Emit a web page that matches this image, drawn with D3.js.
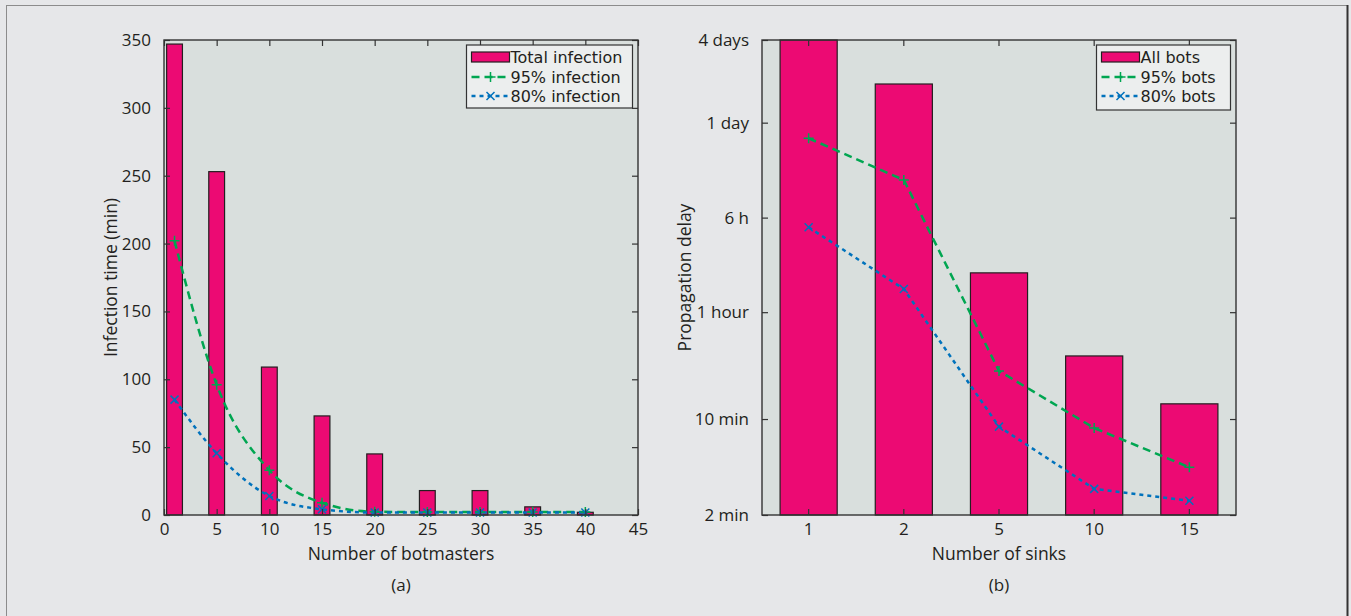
<!DOCTYPE html>
<html>
<head>
<meta charset="utf-8">
<script src="https://cdn.jsdelivr.net/npm/d3@7"></script>
<style>
  body { margin: 0; background: #e6e7e9; }
  text { font-family: "Open Sans", sans-serif; fill: #231f20; }
  .legend-text { font-family: "DejaVu Sans", sans-serif; }
</style>
</head>
<body>
<div id="chart-area"></div>
<script>
/* Panel (a): infection time vs number of botmasters */
var botmasters = [1, 5, 10, 15, 20, 25, 30, 35, 40];
var totalInfection = [347, 253, 109, 73, 45, 18, 18, 6, 2];
var infection95 = [202, 96, 33, 9, 2.4, 2.2, 2.2, 2.2, 2.2];
var infection80 = [85, 45.5, 14, 4.2, 1.8, 1.8, 1.8, 1.8, 1.8];
var xTicksA = [0, 5, 10, 15, 20, 25, 30, 35, 40, 45];
var yTicksA = [0, 50, 100, 150, 200, 250, 300, 350];
var legendA = ["Total infection", "95% infection", "80% infection"];

/* Panel (b): propagation delay (minutes) vs number of sinks */
var sinks = ["1", "2", "5", "10", "15"];
var allBots = [5760, 2754, 116, 28.8, 12.9];
var bots95 = [1108, 551, 22.4, 8.6, 4.45];
var bots80 = [249, 88.5, 8.8, 3.1, 2.54];
// the "6 h" tick sits where the original figure put it (not at 360 min)
var delayTicks = [2, 10, 60, 293, 1440, 5760];
var delayLabels = ["2 min", "10 min", "1 hour", "6 h", "1 day", "4 days"];
var legendB = ["All bots", "95% bots", "80% bots"];

var barColor = "#ec0a73";
var green = "#00a651";
var blue = "#0072bc";
var plotBg = "#d9dfdd";

var width = 474;
var height = 475;

var svg = d3.select("#chart-area").append("svg")
  .attr("width", 1351)
  .attr("height", 616);

/* outer frame */
svg.append("rect")
  .attr("x", 6.5).attr("y", 5.5)
  .attr("width", 1341).attr("height", 630)
  .attr("fill", "none")
  .attr("stroke", "#8c8c8c");
svg.append("line")
  .attr("x1", 1347.5).attr("x2", 1347.5)
  .attr("y1", 5).attr("y2", 616)
  .attr("stroke", "#333").attr("stroke-width", 2);

function plusPath(s) { return "M" + (-s) + ",0H" + s + "M0," + (-s) + "V" + s; }
function crossPath(s) { return "M" + (-s) + "," + (-s) + "L" + s + "," + s + "M" + (-s) + "," + s + "L" + s + "," + (-s); }

function styleAxis(sel) {
  sel.select(".domain").remove();
  sel.selectAll(".tick line").attr("stroke", "#333").attr("stroke-width", 1.2);
  sel.selectAll(".tick text")
    .attr("font-size", "17px")
    .attr("fill", "#231f20")
    .style("font-family", "'Open Sans', sans-serif");
}

function drawLegend(g, x0, y0, w, h, labels) {
  var lg = g.append("g").attr("transform", "translate(" + x0 + "," + y0 + ")");
  lg.append("rect")
    .attr("width", w).attr("height", h)
    .attr("fill", "#eceeee")
    .attr("stroke", "#333").attr("stroke-width", 1.2);
  lg.append("rect")
    .attr("x", 5).attr("y", 7).attr("width", 38).attr("height", 10)
    .attr("fill", barColor).attr("stroke", "#231f20").attr("stroke-width", 1.2);
  lg.append("line")
    .attr("x1", 5).attr("x2", 43).attr("y1", 32).attr("y2", 32)
    .attr("stroke", green).attr("stroke-width", 2.5).attr("stroke-dasharray", "8,5");
  lg.append("path").attr("d", plusPath(5)).attr("transform", "translate(24,32)")
    .attr("stroke", green).attr("stroke-width", 1.5).attr("fill", "none");
  lg.append("line")
    .attr("x1", 5).attr("x2", 43).attr("y1", 51).attr("y2", 51)
    .attr("stroke", blue).attr("stroke-width", 2.5).attr("stroke-dasharray", "4,4");
  lg.append("path").attr("d", crossPath(4)).attr("transform", "translate(24,51)")
    .attr("stroke", blue).attr("stroke-width", 1.5).attr("fill", "none");
  lg.selectAll(".lab").data(labels).enter().append("text")
    .attr("class", "legend-text")
    .attr("x", 44)
    .attr("y", (d, i) => 12 + i * 19.8)
    .attr("dy", "0.36em")
    .attr("font-size", "16px")
    .text(d => d);
}

/* ---------- panel (a) ---------- */
var ga = svg.append("g").attr("transform", "translate(164,40)");

var xa = d3.scaleLinear().domain([0, 45]).range([0, width]);
var ya = d3.scaleLinear().domain([0, 350]).range([height, 0]);

ga.append("rect").attr("width", width).attr("height", height).attr("fill", plotBg);

ga.selectAll(".bar").data(botmasters).enter().append("rect")
  .attr("x", d => xa(d - 0.75))
  .attr("y", (d, i) => ya(totalInfection[i]))
  .attr("width", xa(1.5) - xa(0))
  .attr("height", (d, i) => height - ya(totalInfection[i]))
  .attr("fill", barColor)
  .attr("stroke", "#231f20").attr("stroke-width", 1.2);

var lineA = d3.line().x((d, i) => xa(botmasters[i])).y(d => ya(d)).curve(d3.curveMonotoneX);

ga.append("path").datum(infection95).attr("d", lineA)
  .attr("fill", "none").attr("stroke", green).attr("stroke-width", 2.5).attr("stroke-dasharray", "8,5");
ga.append("path").datum(infection80).attr("d", lineA)
  .attr("fill", "none").attr("stroke", blue).attr("stroke-width", 2.5).attr("stroke-dasharray", "4,4");

ga.selectAll(".m95").data(infection95).enter().append("path")
  .attr("d", plusPath(5))
  .attr("transform", (d, i) => "translate(" + xa(botmasters[i]) + "," + ya(d) + ")")
  .attr("stroke", green).attr("stroke-width", 1.5).attr("fill", "none");
ga.selectAll(".m80").data(infection80).enter().append("path")
  .attr("d", crossPath(4))
  .attr("transform", (d, i) => "translate(" + xa(botmasters[i]) + "," + ya(d) + ")")
  .attr("stroke", blue).attr("stroke-width", 1.5).attr("fill", "none");

ga.append("g").attr("transform", "translate(0," + height + ")")
  .call(d3.axisBottom(xa).tickValues(xTicksA).tickSizeInner(-6).tickSizeOuter(0).tickPadding(8))
  .call(styleAxis);
ga.append("g")
  .call(d3.axisTop(xa).tickValues(xTicksA).tickSizeInner(-6).tickSizeOuter(0).tickFormat(""))
  .call(styleAxis);
ga.append("g")
  .call(d3.axisLeft(ya).tickValues(yTicksA).tickSizeInner(-6).tickSizeOuter(0).tickPadding(13))
  .call(styleAxis);
ga.append("g").attr("transform", "translate(" + width + ",0)")
  .call(d3.axisRight(ya).tickValues(yTicksA).tickSizeInner(-6).tickSizeOuter(0).tickFormat(""))
  .call(styleAxis);

ga.append("rect").attr("width", width).attr("height", height)
  .attr("fill", "none").attr("stroke", "#333").attr("stroke-width", 1.4);

drawLegend(ga, 302.5, 5, 166, 63, legendA);

ga.append("text")
  .attr("x", width / 2).attr("y", height + 45)
  .attr("text-anchor", "middle").attr("font-size", "17.5px")
  .text("Number of botmasters");
ga.append("text")
  .attr("x", width / 2).attr("y", height + 76)
  .attr("text-anchor", "middle").attr("font-size", "17px")
  .text("(a)");
ga.append("text")
  .attr("x", -height / 2).attr("y", -47)
  .attr("transform", "rotate(-90)")
  .attr("text-anchor", "middle").attr("font-size", "17.5px")
  .text("Infection time (min)");

/* ---------- panel (b) ---------- */
var gb = svg.append("g").attr("transform", "translate(762,40)");

var xb = d3.scaleBand().domain(sinks).range([0, width]).paddingInner(0.4).paddingOuter(0.19);
var yb = d3.scaleLog().domain([2, 5760]).range([height, 0]).clamp(true);
var cx = d => xb(d) + xb.bandwidth() / 2;

gb.append("rect").attr("width", width).attr("height", height).attr("fill", plotBg);

gb.selectAll(".bar").data(sinks).enter().append("rect")
  .attr("x", d => xb(d))
  .attr("y", (d, i) => yb(allBots[i]))
  .attr("width", xb.bandwidth())
  .attr("height", (d, i) => height - yb(allBots[i]))
  .attr("fill", barColor)
  .attr("stroke", "#231f20").attr("stroke-width", 1.2);

var lineB = d3.line().x((d, i) => cx(sinks[i])).y(d => yb(d));

gb.append("path").datum(bots95).attr("d", lineB)
  .attr("fill", "none").attr("stroke", green).attr("stroke-width", 2.5).attr("stroke-dasharray", "8,5");
gb.append("path").datum(bots80).attr("d", lineB)
  .attr("fill", "none").attr("stroke", blue).attr("stroke-width", 2.5).attr("stroke-dasharray", "4,4");

gb.selectAll(".m95").data(bots95).enter().append("path")
  .attr("d", plusPath(5))
  .attr("transform", (d, i) => "translate(" + cx(sinks[i]) + "," + yb(d) + ")")
  .attr("stroke", green).attr("stroke-width", 1.5).attr("fill", "none");
gb.selectAll(".m80").data(bots80).enter().append("path")
  .attr("d", crossPath(4))
  .attr("transform", (d, i) => "translate(" + cx(sinks[i]) + "," + yb(d) + ")")
  .attr("stroke", blue).attr("stroke-width", 1.5).attr("fill", "none");

gb.append("g").attr("transform", "translate(0," + height + ")")
  .call(d3.axisBottom(xb).tickSizeInner(-6).tickSizeOuter(0).tickPadding(8))
  .call(styleAxis);
gb.append("g")
  .call(d3.axisTop(xb).tickSizeInner(-6).tickSizeOuter(0).tickFormat(""))
  .call(styleAxis);
gb.append("g")
  .call(d3.axisLeft(yb).tickValues(delayTicks).tickSizeInner(-6).tickSizeOuter(0).tickPadding(13)
    .tickFormat((d, i) => delayLabels[i]))
  .call(styleAxis);
gb.append("g").attr("transform", "translate(" + width + ",0)")
  .call(d3.axisRight(yb).tickValues(delayTicks).tickSizeInner(-6).tickSizeOuter(0).tickFormat(""))
  .call(styleAxis);

gb.append("rect").attr("width", width).attr("height", height)
  .attr("fill", "none").attr("stroke", "#333").attr("stroke-width", 1.4);

drawLegend(gb, 334.5, 5, 134, 65, legendB);

gb.append("text")
  .attr("x", width / 2).attr("y", height + 45)
  .attr("text-anchor", "middle").attr("font-size", "17.5px")
  .text("Number of sinks");
gb.append("text")
  .attr("x", width / 2).attr("y", height + 76)
  .attr("text-anchor", "middle").attr("font-size", "17px")
  .text("(b)");
gb.append("text")
  .attr("x", -height / 2).attr("y", -71)
  .attr("transform", "rotate(-90)")
  .attr("text-anchor", "middle").attr("font-size", "17.5px")
  .text("Propagation delay");
</script>
</body>
</html>
